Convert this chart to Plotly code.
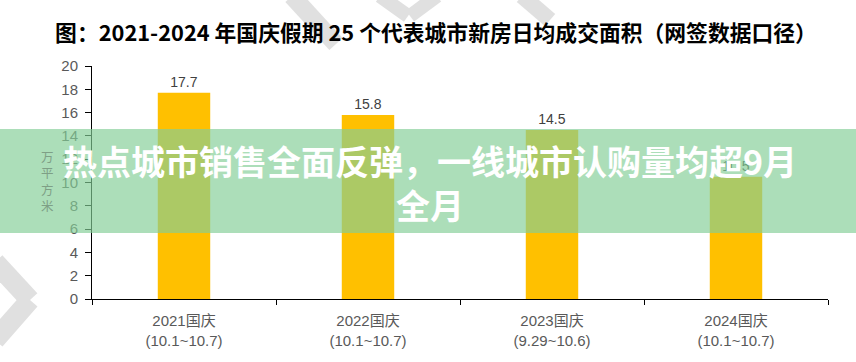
import plotly.graph_objects as go

# ---- data ----
categories = ["2021国庆", "2022国庆", "2023国庆", "2024国庆"]
periods = ["(10.1~10.7)", "(10.1~10.7)", "(9.29~10.6)", "(10.1~10.7)"]
values = [17.7, 15.8, 14.5, 10.5]
y_ticks = [0, 2, 4, 6, 8, 10, 12, 14, 16, 18, 20]

title_text = "图：2021-2024 年国庆假期 25 个代表城市新房日均成交面积（网签数据口径）"
banner_text = "热点城市销售全面反弹，一线城市认购量均超9月<br>全月"
y_title = "万<br>平<br>方<br>米"

W, H = 856, 362
L, R, T, B = 92, 28, 66, 63
PW, PH = W - L - R, H - T - B


def px(x):
    return (x - L) / PW


def py(y):
    return (H - B - y) / PH


labels = [f"{c}<br>{p}" for c, p in zip(categories, periods)]

fig = go.Figure()
fig.add_trace(go.Bar(
    x=labels, y=values,
    marker=dict(color="#FFC000", line=dict(width=0)),
    text=[f"{v:.1f}" for v in values],
    textposition="outside",
    textfont=dict(family="Liberation Sans, Arial", size=14, color="#404040"),
    cliponaxis=False,
    width=0.285,
    hoverinfo="skip",
))

shapes = []
# watermark strokes
wm = "#e0e0e0"
for (x0, y0, x1, y1, w) in [(292, -4, 336, 44, 18), (380, -4, 408, 16, 14), (437, -4, 410, 16, 14),
                            (522, -4, 550, 20, 16), (-5, 262, 30, 300, 20), (30, 300, -5, 340, 20)]:
    shapes.append(dict(type="line", xref="paper", yref="paper",
                       x0=px(x0), y0=py(y0), x1=px(x1), y1=py(y1),
                       line=dict(color=wm, width=w), layer="below"))
# green banner
shapes.append(dict(type="rect", xref="paper", yref="paper",
                   x0=px(-2), x1=px(W + 2), y0=py(233), y1=py(129),
                   fillcolor="rgba(131,206,151,0.67)", line=dict(width=0), layer="above"))

fig.update_layout(
    width=W, height=H,
    margin=dict(l=L, r=R, t=T, b=B),
    paper_bgcolor="white", plot_bgcolor="white",
    showlegend=False,
    bargap=0.715,
    font=dict(family="Liberation Sans, Noto Sans CJK SC", color="#595959"),
    title=dict(text=title_text, x=436 / W, xanchor="center", y=1 - 33 / H, yanchor="middle",
               font=dict(family="Noto Sans CJK SC", size=21.8, color="#000000", weight="bold")),
    shapes=shapes,
    xaxis=dict(
        showline=True, linecolor="#000000", linewidth=1,
        ticks="outside", ticklen=5, tickcolor="#000000", tickson="boundaries",
        tickfont=dict(family="Liberation Sans, Noto Sans CJK SC", size=15, color="#595959"),
        ticklabelstandoff=8,
        showgrid=False, zeroline=False,
    ),
    yaxis=dict(
        range=[0, 20], tickvals=y_ticks,
        showline=True, linecolor="#000000", linewidth=1,
        ticks="outside", ticklen=6, tickcolor="#000000",
        tickfont=dict(family="Liberation Sans, Arial", size=15, color="#595959"),
        ticklabelstandoff=4,
        showgrid=False, zeroline=False,
    ),
    annotations=[
        dict(text=y_title, xref="paper", yref="paper", x=px(47), y=py(181),
             xanchor="center", yanchor="middle", showarrow=False,
             font=dict(family="Noto Sans CJK SC", size=12.5, color="#7e9f86")),
        dict(text=banner_text, xref="paper", yref="paper", x=px(430), y=py(182.5),
             xanchor="center", yanchor="middle", showarrow=False, align="center",
             font=dict(family="Noto Sans CJK SC", size=34, color="#ffffff", weight="bold")),
    ],
)

fig.write_html("out.html", config={"displayModeBar": False},
               post_script="document.body.style.margin='0';")
